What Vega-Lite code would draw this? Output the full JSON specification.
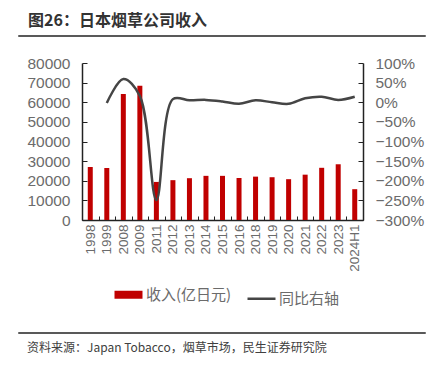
{
  "$schema": "https://vega.github.io/schema/vega-lite/v6.json",
  "background": "white",
  "padding": {"left": 17, "top": 12, "right": 3, "bottom": 5},
  "config": {
    "view": {"stroke": null},
    "font": "Noto Sans CJK SC",
    "axis": {"labelFont": "Liberation Sans", "labelColor": "#6b6b6b", "domainColor": "#222", "tickColor": "#222", "grid": false, "title": null}
  },
  "columns": 1,
  "spacing": 15,
  "resolve": {"scale": {"color": "independent"}, "legend": {"color": "independent"}},
  "concat": [
    {
      "width": 407,
      "height": 1,
      "title": {"text": "图26：日本烟草公司收入", "anchor": "start", "fontSize": 16, "fontWeight": "bold", "color": "#333333", "dx": 10, "offset": 1, "font": "Noto Sans CJK SC"},
      "data": {"values": [{"t": ""}]},
      "mark": {"type": "text"},
      "encoding": {"text": {"field": "t"}},
      "view": {"stroke": "#595959", "strokeWidth": 1}
    },
    {
      "spacing": 0,
      "resolve": {"scale": {"color": "independent"}, "legend": {"color": "independent"}},
      "hconcat": [
        {
          "width": 1,
          "height": 157,
          "data": {"values": [{"t": ""}]},
          "mark": {"type": "text"},
          "encoding": {"text": {"field": "t"}}
        },
        {
          "width": 281,
          "height": 157,
          "data": {"values": [
            {"year": "1998", "rev": 27000, "yoy": null},
            {"year": "1999", "rev": 26500, "yoy": -0.02},
            {"year": "2008", "rev": 64200, "yoy": 0.59},
            {"year": "2009", "rev": 68400, "yoy": 0.16},
            {"year": "2011", "rev": 19400, "yoy": -2.49},
            {"year": "2012", "rev": 20300, "yoy": 0.08},
            {"year": "2013", "rev": 21300, "yoy": 0.05},
            {"year": "2014", "rev": 22500, "yoy": 0.06},
            {"year": "2015", "rev": 22500, "yoy": 0.02},
            {"year": "2016", "rev": 21400, "yoy": -0.04},
            {"year": "2018", "rev": 22100, "yoy": 0.05},
            {"year": "2019", "rev": 21800, "yoy": 0.0},
            {"year": "2020", "rev": 20800, "yoy": -0.04},
            {"year": "2021", "rev": 23100, "yoy": 0.10},
            {"year": "2022", "rev": 26600, "yoy": 0.14},
            {"year": "2023", "rev": 28400, "yoy": 0.06},
            {"year": "2024H1", "rev": 15700, "yoy": 0.14}
          ]},
          "layer": [
            {
              "mark": {"type": "bar", "width": 5},
              "encoding": {
                "x": {"field": "year", "type": "ordinal", "sort": null,
                  "scale": {"paddingInner": 0, "paddingOuter": 0},
                  "axis": {"labelAngle": -90, "labelFontSize": 13.5, "tickBand": "extent", "tickSize": -4, "labelPadding": 8, "domainWidth": 1.5}},
                "y": {"field": "rev", "type": "quantitative",
                  "scale": {"domain": [0, 80000]},
                  "axis": {"values": [0, 10000, 20000, 30000, 40000, 50000, 60000, 70000, 80000], "format": "d", "labelFontSize": 15.5, "tickSize": -5, "labelPadding": 17, "minExtent": 63, "domainWidth": 1.5}},
                "color": {"datum": "收入(亿日元)", "type": "nominal",
                  "scale": {"domain": ["收入(亿日元)", "同比右轴"], "range": ["#C00000", "#454545"]},
                  "legend": {"orient": "none", "legendX": 39, "legendY": 224, "padding": 0, "title": null, "direction": "horizontal", "symbolType": "stroke", "symbolSize": 784, "labelFontSize": 15, "labelColor": "#6b6b6b", "labelOffset": 10, "columnPadding": 10,
                    "encode": {"symbols": {"update": {
                      "strokeWidth": {"signal": "datum.value === '收入(亿日元)' ? 8 : 2.5"},
                      "stroke": {"signal": "datum.value === '收入(亿日元)' ? '#C00000' : '#454545'"},
                      "fill": {"value": "transparent"},
                      "opacity": {"value": 1}
                    }}}}
                }
              }
            },
            {
              "mark": {"type": "line", "interpolate": "catmull-rom", "strokeWidth": 2.5},
              "encoding": {
                "x": {"field": "year", "type": "ordinal", "sort": null},
                "y": {"field": "yoy", "type": "quantitative",
                  "scale": {"domain": [-3, 1]},
                  "axis": {"orient": "right", "format": ".0%", "values": [-3, -2.5, -2, -1.5, -1, -0.5, 0, 0.5, 1], "labelFontSize": 15.5, "tickSize": -5, "labelPadding": 17, "domainWidth": 1.5}},
                "color": {"datum": "同比右轴", "type": "nominal"}
              }
            }
          ],
          "resolve": {"scale": {"y": "independent"}}
        }
      ]
    },
    {
      "width": 407,
      "height": 1,
      "title": {"text": "资料来源：Japan Tobacco，烟草市场，民生证券研究院", "orient": "bottom", "anchor": "start", "fontSize": 12, "fontWeight": "normal", "color": "#404040", "dx": 9, "offset": 5, "font": "Noto Sans CJK SC"},
      "data": {"values": [{"t": ""}]},
      "mark": {"type": "text"},
      "encoding": {"text": {"field": "t"}},
      "view": {"stroke": "#595959", "strokeWidth": 1}
    }
  ]
}
